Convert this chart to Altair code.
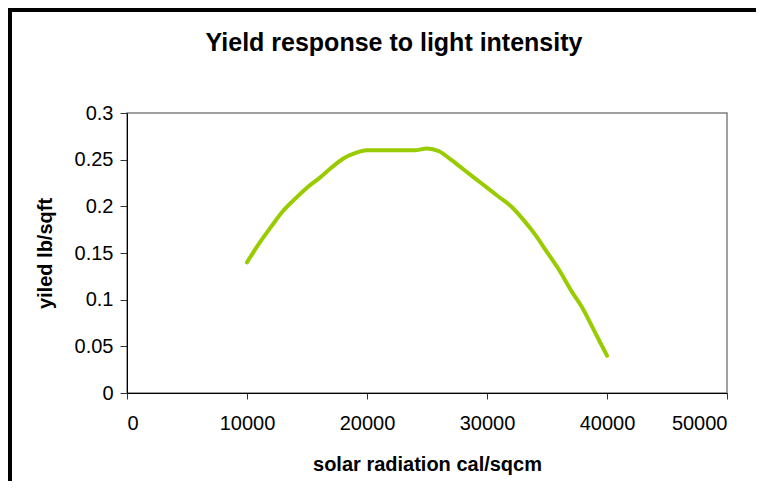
import altair as alt
import pandas as pd

radiation = [10000, 11000, 12000, 13000, 14000, 15000, 16000, 17000, 18000, 19000,
             20000, 21000, 22000, 23000, 24000, 25000, 26000, 27000, 28000, 29000,
             30000, 31000, 32000, 33000, 34000, 35000, 36000, 37000, 38000, 39000, 40000]
yield_lb = [0.14, 0.16, 0.178, 0.195, 0.208, 0.22, 0.23, 0.241, 0.251, 0.257,
            0.26, 0.26, 0.26, 0.26, 0.26, 0.262, 0.259, 0.25, 0.24, 0.23,
            0.22, 0.21, 0.2, 0.186, 0.17, 0.151, 0.132, 0.11, 0.09, 0.065, 0.04]

df = pd.DataFrame({"radiation": radiation, "yield": yield_lb})

FONT = "Liberation Sans"

line = alt.Chart(df).mark_line(
    color="#99CC00", strokeWidth=4, strokeCap="round", strokeJoin="round",
    interpolate="monotone"
).encode(
    x=alt.X("radiation:Q",
            scale=alt.Scale(domain=[0, 50000], nice=False, zero=True),
            axis=alt.Axis(title="solar radiation cal/sqcm",
                          values=[0, 10000, 20000, 30000, 40000, 50000],
                          format="d", grid=False, tickSize=6,
                          labelPadding=14, labelFontSize=20,
                          titleFontSize=20, titleFontWeight="bold",
                          titleY=77, titleBaseline="alphabetic")),
    y=alt.Y("yield:Q",
            scale=alt.Scale(domain=[0, 0.3], nice=False),
            axis=alt.Axis(title="yiled lb/sqft",
                          values=[0, 0.05, 0.1, 0.15, 0.2, 0.25, 0.3],
                          format="~g", grid=False, tickSize=7,
                          labelPadding=7, labelFontSize=20,
                          titleFontSize=20, titleFontWeight="bold",
                          titleAngle=-90, titleX=-76, titleY=140,
                          titleAlign="center", titleBaseline="alphabetic")),
)

frame = alt.Data(values=[{"k": 1}])
border_left = alt.Chart(frame).mark_rule(stroke="black", strokeWidth=4).encode(
    x=alt.value(-117), y=alt.value(-105), y2=alt.value(600)
)
border_top = alt.Chart(frame).mark_rule(stroke="black", strokeWidth=4).encode(
    y=alt.value(-103), x=alt.value(-119), x2=alt.value(900)
)

chart = alt.layer(border_left, border_top, line).properties(
    width=600, height=280,
    title=alt.TitleParams("Yield response to light intensity",
                          fontSize=25, fontWeight="bold", font=FONT,
                          anchor="middle", dx=-33, offset=0, dy=70,
                          baseline="alphabetic", color="black"),
    autosize=alt.AutoSizeParams(type="none"),
    padding={"left": 119, "top": 105, "right": 29, "bottom": 88},
).configure(
    font=FONT
).configure_view(
    stroke="#808080", strokeWidth=1.5
).configure_axis(
    labelFont=FONT, titleFont=FONT, labelColor="black", titleColor="black",
    domainColor="black", domainWidth=1, tickColor="#333333", tickWidth=1
)

chart.save("out.html", embed_options={"renderer": "svg", "actions": False})
